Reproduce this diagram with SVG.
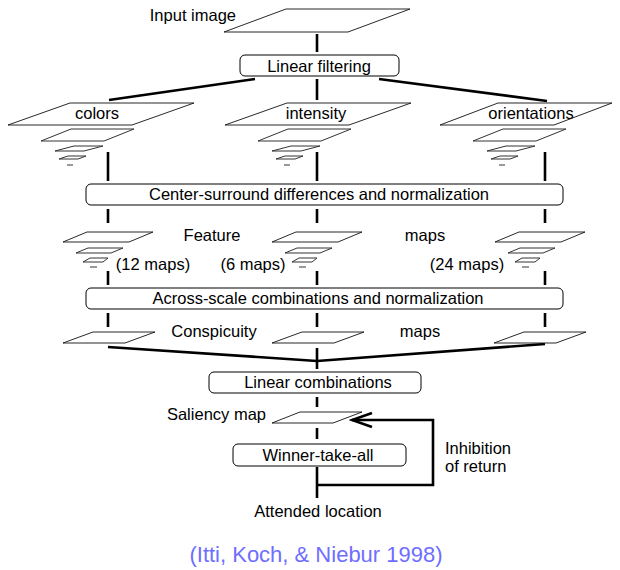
<svg xmlns="http://www.w3.org/2000/svg" width="620" height="570" viewBox="0 0 620 570">
<style>
  text { font-family: "Liberation Sans", Arial, sans-serif; font-size: 16.5px; fill: #000; }
  .c { text-anchor: middle; }
  .e { text-anchor: end; }
  .map { fill: #fff; stroke: #111; stroke-width: 0.9; stroke-linejoin: miter; }
  .sm { fill: #fff; stroke: #333; stroke-width: 1; }
  .box { fill: #fff; stroke: #000; stroke-width: 1; }
  .wire { stroke: #000; stroke-width: 2.6; fill: none; }
  .cite { font-size: 22px; fill: #6e6eff; text-anchor: middle; }
</style>
<defs>
  <marker id="arr" markerUnits="userSpaceOnUse" markerWidth="24" markerHeight="20" viewBox="0 0 24 20" refX="21" refY="10" orient="auto">
    <path d="M1,3 L21,10 L1,17" fill="none" stroke="#000" stroke-width="2.6"/>
  </marker>
</defs>
<rect width="620" height="570" fill="#fff"/>

<g id="connectors">
  <line class="wire" x1="317" y1="34" x2="317" y2="52"/>
  <line class="wire" x1="255" y1="79" x2="109" y2="100"/>
  <line class="wire" x1="317" y1="79" x2="317" y2="100"/>
  <line class="wire" x1="379" y1="79" x2="547" y2="101"/>
  <line class="wire" x1="108" y1="152" x2="108" y2="181"/>
  <line class="wire" x1="317" y1="152" x2="317" y2="181"/>
  <line class="wire" x1="545" y1="152" x2="545" y2="181"/>
  <line class="wire" x1="108" y1="209" x2="108" y2="223"/>
  <line class="wire" x1="317" y1="209" x2="317" y2="223"/>
  <line class="wire" x1="545" y1="209" x2="545" y2="223"/>
  <line class="wire" x1="108" y1="271" x2="108" y2="285"/>
  <line class="wire" x1="317" y1="271" x2="317" y2="285"/>
  <line class="wire" x1="545" y1="271" x2="545" y2="285"/>
  <line class="wire" x1="108" y1="313" x2="108" y2="327"/>
  <line class="wire" x1="317" y1="313" x2="317" y2="327"/>
  <line class="wire" x1="545" y1="313" x2="545" y2="327"/>
  <line class="wire" x1="108" y1="347" x2="317" y2="361"/>
  <line class="wire" x1="545" y1="344" x2="317" y2="361"/>
  <line class="wire" x1="317" y1="348" x2="317" y2="369"/>
  <line class="wire" x1="317" y1="397" x2="317" y2="407"/>
  <line class="wire" x1="317" y1="428" x2="317" y2="439"/>
  <line class="wire" x1="317" y1="467" x2="317" y2="498"/>
  <polyline class="wire" points="317,485 433,485 433,420 352,420" marker-end="url(#arr)"/>
</g>

<g id="input-image">
  <polygon class="map" points="224,32 348,32 410,9 286,9"/>
  <text class="e" x="236" y="21">Input image</text>
</g>

<g id="linear-filtering">
  <rect class="box" x="240" y="55" width="159" height="21" rx="5"/>
  <text class="c" x="319" y="72">Linear filtering</text>
</g>

<g id="colors">
  <polygon class="map" points="8,125 132,125 194,103 70,103"/>
  <polygon class="sm" points="41,141 104,141 134,129 71,129"/>
  <polygon class="sm" points="55,151 84,151 103,146 74,146"/>
  <polygon class="sm" points="59,159 78,159 86,156 68,156"/>
  <line class="sm" x1="67" y1="165" x2="73" y2="165"/>
  <text class="c" x="97" y="119">colors</text>
</g>

<g id="intensity">
  <polygon class="map" points="225,125 349,125 411,103 287,103"/>
  <polygon class="sm" points="258,141 321,141 351,129 288,129"/>
  <polygon class="sm" points="272,151 301,151 320,146 291,146"/>
  <polygon class="sm" points="276,159 295,159 303,156 285,156"/>
  <line class="sm" x1="284" y1="165" x2="290" y2="165"/>
  <text class="c" x="316" y="119">intensity</text>
</g>

<g id="orientations">
  <polygon class="map" points="440,125 554,125 612,103 498,103"/>
  <polygon class="sm" points="473,141 536,141 566,129 503,129"/>
  <polygon class="sm" points="487,151 516,151 535,146 506,146"/>
  <polygon class="sm" points="491,159 510,159 518,156 500,156"/>
  <line class="sm" x1="499" y1="165" x2="505" y2="165"/>
  <text class="c" x="531" y="119">orientations</text>
</g>

<g id="center-surround">
  <rect class="box" x="86" y="184" width="477" height="21" rx="5"/>
  <text class="c" x="319" y="200">Center-surround differences and normalization</text>
</g>

<g id="feature-maps">
  <polygon class="map" points="63,242 129,242 153,232 87,232"/>
  <polygon class="sm" points="76,253 111,253 123,248 88,248"/>
  <polygon class="sm" points="83,262 103,262 108,258 90,258"/>
  <line class="sm" x1="90" y1="267" x2="97" y2="267"/>
  <polygon class="map" points="272,242 338,242 362,232 296,232"/>
  <polygon class="sm" points="285,253 320,253 332,248 297,248"/>
  <polygon class="sm" points="292,262 312,262 317,258 299,258"/>
  <line class="sm" x1="299" y1="267" x2="306" y2="267"/>
  <polygon class="map" points="495,242 561,242 585,232 519,232"/>
  <polygon class="sm" points="508,253 543,253 555,248 520,248"/>
  <polygon class="sm" points="515,262 535,262 540,258 522,258"/>
  <line class="sm" x1="522" y1="267" x2="529" y2="267"/>
  <text class="c" x="212" y="241">Feature</text>
  <text class="c" x="425" y="241">maps</text>
  <text class="c" x="153" y="270">(12 maps)</text>
  <text class="c" x="253" y="270">(6 maps)</text>
  <text class="c" x="467" y="270">(24 maps)</text>
</g>

<g id="across-scale">
  <rect class="box" x="86" y="288" width="477" height="21" rx="5"/>
  <text class="c" x="318" y="304">Across-scale combinations and normalization</text>
</g>

<g id="conspicuity-maps">
  <polygon class="map" points="63,343 125,343 155,332 93,332"/>
  <polygon class="map" points="272,343 334,343 364,332 302,332"/>
  <polygon class="map" points="494,343 556,343 586,332 524,332"/>
  <text class="c" x="214" y="337">Conspicuity</text>
  <text class="c" x="420" y="337">maps</text>
</g>

<g id="linear-combinations">
  <rect class="box" x="209" y="372" width="212" height="21" rx="5"/>
  <text class="c" x="318" y="388">Linear combinations</text>
</g>

<g id="saliency-map">
  <polygon class="map" points="272,423 333,423 362,412 300,412"/>
  <text class="e" x="266" y="420">Saliency map</text>
</g>

<g id="winner-take-all">
  <rect class="box" x="233" y="444" width="173" height="22" rx="5"/>
  <text class="c" x="318" y="461">Winner-take-all</text>
</g>

<g id="inhibition-label">
  <text x="445" y="454">Inhibition</text>
  <text x="445" y="472">of return</text>
</g>

<g id="attended-location">
  <text class="c" x="318" y="517">Attended location</text>
</g>

<text class="cite" x="316" y="562">(Itti, Koch, &amp; Niebur 1998)</text>
</svg>
